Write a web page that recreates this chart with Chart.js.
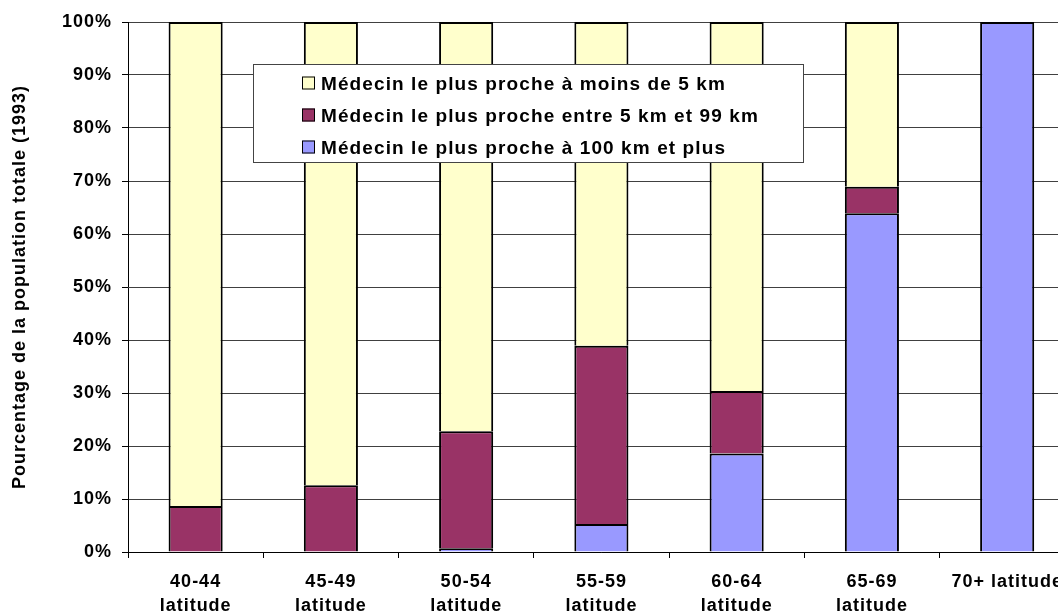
<!DOCTYPE html>
<html>
<head>
<meta charset="utf-8">
<script src="https://cdn.jsdelivr.net/npm/chart.js@4"></script>
<style>
  html, body { margin: 0; padding: 0; overflow: hidden; background: #fff; }
  #wrap { width: 1076px; height: 614px; position: relative; }
</style>
</head>
<body>
<div id="wrap"><canvas id="medecins-chart"></canvas></div>
<script>
var categories = [['40-44', 'latitude'], ['45-49', 'latitude'], ['50-54', 'latitude'], ['55-59', 'latitude'], ['60-64', 'latitude'], ['65-69', 'latitude'], '70+ latitude'];
var seriesNames = ['Médecin le plus proche à moins de 5 km', 'Médecin le plus proche entre 5 km et 99 km', 'Médecin le plus proche à 100 km et plus'];
var moins5 = [91.3, 87.4, 77.2, 61.1, 69.6, 31.1, 0];
var entre5et99 = [8.7, 12.6, 22.1, 33.6, 11.8, 5.0, 0];
var plus100 = [0, 0, 0.7, 5.3, 18.6, 63.9, 100];
var yTicks = [0, 10, 20, 30, 40, 50, 60, 70, 80, 90, 100];
var colors = ['#FFFFCC', '#993366', '#9999FF'];

var FONT = '"Liberation Sans", Arial, sans-serif';

// spacing between letters, like the original chart's wide text
var spacing = {
  id: 'spacing',
  beforeLayout: function (chart) { chart.ctx.letterSpacing = '1px'; },
  beforeDraw: function (chart) { chart.ctx.letterSpacing = '1px'; }
};

// boxed legend sitting inside the plot area
var boxLegend = {
  id: 'boxLegend',
  afterDraw: function (chart) {
    var ctx = chart.ctx;
    ctx.save();
    ctx.fillStyle = '#fff';
    ctx.fillRect(253, 64, 551, 98);
    ctx.strokeStyle = '#444';
    ctx.lineWidth = 1;
    ctx.strokeRect(253.5, 64.5, 550, 98);
    ctx.font = 'bold 19px ' + FONT;
    ctx.letterSpacing = '1.1px';
    ctx.textBaseline = 'alphabetic';
    ctx.textAlign = 'left';
    for (var i = 0; i < seriesNames.length; i++) {
      var base = 89.5 + i * 32;
      ctx.fillStyle = colors[i];
      ctx.fillRect(302, base - 13, 13, 13);
      ctx.strokeStyle = '#000';
      ctx.strokeRect(302.5, base - 12.5, 12, 12);
      ctx.fillStyle = '#000';
      ctx.fillText(seriesNames[i], 321, base);
    }
    ctx.restore();
  }
};

var ctx = document.getElementById('medecins-chart').getContext('2d');
var myChart = new Chart(ctx, {
  type: 'bar',
  data: {
    labels: categories,
    datasets: [
      { label: seriesNames[2], data: plus100, backgroundColor: colors[2] },
      { label: seriesNames[1], data: entre5et99, backgroundColor: colors[1] },
      { label: seriesNames[0], data: moins5, backgroundColor: colors[0] }
    ]
  },
  options: {
    responsive: true,
    maintainAspectRatio: false,
    animation: false,
    layout: { padding: { top: 22, right: 1, left: 0, bottom: 0 } },
    datasets: {
      bar: {
        borderColor: '#000',
        borderWidth: 2,
        categoryPercentage: 1,
        barPercentage: 0.4
      }
    },
    scales: {
      x: {
        stacked: true,
        border: { color: '#000', width: 1 },
        grid: { drawOnChartArea: false, drawTicks: true, tickLength: 6, color: '#000' },
        ticks: {
          color: '#000',
          padding: 13,
          maxRotation: 0,
          autoSkip: false,
          font: { family: FONT, size: 18, weight: 'bold', lineHeight: 1.28 }
        },
        afterFit: function (scale) { scale.height = 62; }
      },
      y: {
        stacked: true,
        min: 0,
        max: 100,
        afterBuildTicks: function (scale) { scale.ticks = yTicks.map(function (v) { return { value: v }; }); },
        border: { color: '#000', width: 1 },
        grid: { color: '#404040', lineWidth: 1, tickLength: 6, tickColor: '#000' },
        ticks: {
          color: '#000',
          padding: 10,
          font: { family: FONT, size: 18, weight: 'bold' },
          callback: function (v) { return v + '%'; }
        },
        title: {
          display: true,
          text: 'Pourcentage de la population totale (1993)',
          color: '#000',
          padding: { top: 9, bottom: 0 },
          font: { family: FONT, size: 18, weight: 'bold' }
        },
        afterFit: function (scale) { scale.width = 128; }
      }
    },
    plugins: {
      legend: { display: false },
      tooltip: { enabled: false }
    }
  },
  plugins: [spacing, boxLegend]
});
</script>
</body>
</html>
